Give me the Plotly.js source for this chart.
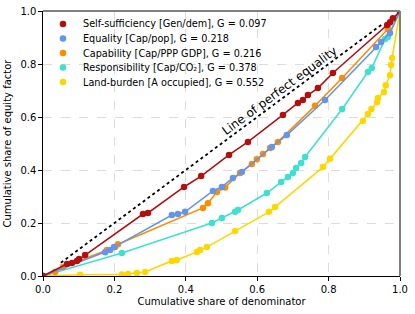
<!DOCTYPE html>
<html>
<head>
<meta charset="utf-8">
<script src="https://cdn.plot.ly/plotly-3.0.1.min.js"></script>
<style>html,body{margin:0;padding:0;background:#fff;}#chart{width:415px;height:314px;}</style>
</head>
<body>
<div id="chart"></div>
<script>
var seriesNames = [
  "Self-sufficiency [Gen/dem], G = 0.097",
  "Equality [Cap/pop], G = 0.218",
  "Capability [Cap/PPP GDP], G = 0.216",
  "Responsibility [Cap/CO\u2082], G = 0.378",
  "Land-burden [A occupied], G = 0.552"
];
var seriesColors = ["#B40F0F", "#6495ED", "#FF8C00", "#40E0D0", "#FFD700"];

var selfX = [0, 0.067, 0.081, 0.095, 0.101, 0.118, 0.280, 0.294, 0.395, 0.443, 0.521, 0.574, 0.672, 0.714, 0.728, 0.742, 0.770, 0.812, 0.964, 0.972, 0.980, 1];
var selfY = [0, 0.045, 0.049, 0.057, 0.064, 0.079, 0.234, 0.238, 0.336, 0.377, 0.457, 0.506, 0.608, 0.653, 0.664, 0.683, 0.709, 0.766, 0.947, 0.958, 0.973, 1];

var eqX = [0, 0.174, 0.188, 0.199, 0.361, 0.378, 0.398, 0.476, 0.501, 0.532, 0.557, 0.641, 0.683, 0.790, 0.933, 0.947, 0.972, 1];
var eqY = [0, 0.090, 0.098, 0.109, 0.230, 0.234, 0.242, 0.321, 0.336, 0.370, 0.392, 0.487, 0.532, 0.664, 0.864, 0.883, 0.917, 1];

var capX = [0, 0.034, 0.056, 0.179, 0.202, 0.210, 0.448, 0.462, 0.487, 0.510, 0.552, 0.585, 0.599, 0.616, 0.636, 0.658, 0.762, 0.838, 0.966, 1];
var capY = [0, 0.015, 0.034, 0.098, 0.109, 0.120, 0.257, 0.275, 0.317, 0.334, 0.389, 0.423, 0.441, 0.460, 0.483, 0.506, 0.642, 0.747, 0.932, 1];

var respX = [0, 0.221, 0.473, 0.501, 0.538, 0.546, 0.627, 0.667, 0.686, 0.700, 0.709, 0.723, 0.734, 0.838, 0.910, 0.921, 0.958, 0.966, 1];
var respY = [0, 0.087, 0.200, 0.219, 0.242, 0.249, 0.313, 0.355, 0.374, 0.389, 0.408, 0.426, 0.449, 0.630, 0.770, 0.785, 0.894, 0.902, 1];

var landX = [0, 0.104, 0.221, 0.238, 0.263, 0.286, 0.361, 0.375, 0.431, 0.440, 0.459, 0.538, 0.633, 0.650, 0.784, 0.804, 0.896, 0.910, 0.920, 0.936, 0.938, 0.955, 0.960, 0.972, 0.975, 0.978, 1];
var landY = [0, 0.005, 0.006, 0.008, 0.011, 0.015, 0.057, 0.060, 0.091, 0.098, 0.109, 0.170, 0.242, 0.260, 0.411, 0.442, 0.585, 0.611, 0.630, 0.657, 0.672, 0.694, 0.720, 0.758, 0.796, 0.823, 1];

var equalityX = [0.05, 0.95];
var equalityY = [0.05, 0.95];
var equalityLabel = "Line of perfect equality";

var tickVals = [0, 0.2, 0.4, 0.6, 0.8, 1.0];
var tickText = ["0.0", "0.2", "0.4", "0.6", "0.8", "1.0"];

var xs = [selfX, eqX, capX, respX, landX];
var ys = [selfY, eqY, capY, respY, landY];

var traces = [];
traces.push({x: equalityX, y: equalityY, mode: "lines", line: {color: "#000", width: 1.8, dash: "dot"}, showlegend: false, hoverinfo: "skip"});
for (var i = xs.length - 1; i >= 0; i--) {
  traces.push({x: xs[i], y: ys[i], mode: "lines+markers", name: seriesNames[i], line: {color: seriesColors[i], width: 1.6},
    marker: {color: seriesColors[i], size: 6.5}, showlegend: false});
}

var font = "DejaVu Sans, sans-serif";
var axisCommon = {
  range: [0, 1], tickvals: tickVals, ticktext: tickText, ticks: "outside", ticklen: 3.5, tickwidth: 1, tickcolor: "#000",
  showline: true, linecolor: "#000", linewidth: 1.2, showgrid: true, gridcolor: "#dcdcdc", griddash: "dash", gridwidth: 1,
  zeroline: false, tickfont: {family: font, size: 10, color: "#000"}, fixedrange: true
};
var xaxis = Object.assign({}, axisCommon, {title: {text: "Cumulative share of denominator", font: {family: font, size: 10, color: "#000"}, standoff: 4}});
var yaxis = Object.assign({}, axisCommon, {title: {text: "Cumulative share of equity factor", font: {family: font, size: 10, color: "#000"}, standoff: 6}});

// manual legend (compact rows like the reference)
var legendRowsY = [0.951, 0.896, 0.8415, 0.787, 0.732];
var shapes = [
  {type: "line", xref: "paper", yref: "paper", x0: 0, x1: 1, y0: 1, y1: 1, line: {color: "#808080", width: 2}},
  {type: "line", xref: "paper", yref: "paper", x0: 1, x1: 1, y0: 0, y1: 1, line: {color: "#808080", width: 2}}
];
var annotations = [{x: 0.662, y: 0.698, xref: "x", yref: "y", text: equalityLabel, showarrow: false, textangle: -36.6,
    font: {family: font, size: 12, color: "#000"}}];
for (var k = 0; k < seriesNames.length; k++) {
  shapes.push({type: "circle", xref: "paper", yref: "paper", xsizemode: "pixel", ysizemode: "pixel",
    xanchor: 0.056, yanchor: legendRowsY[k], x0: -3.3, x1: 3.3, y0: -3.3, y1: 3.3,
    fillcolor: seriesColors[k], line: {width: 0}});
  annotations.push({xref: "paper", yref: "paper", x: 0.1064, y: legendRowsY[k], xanchor: "left", yanchor: "middle",
    text: seriesNames[k], showarrow: false, font: {family: font, size: 9.7, color: "#000"}});
}

var layout = {
  width: 415, height: 314,
  margin: {l: 43, r: 15, t: 11, b: 38},
  paper_bgcolor: "#fff", plot_bgcolor: "#fff",
  xaxis: xaxis, yaxis: yaxis,
  showlegend: false,
  shapes: shapes,
  annotations: annotations
};
Plotly.newPlot("chart", traces, layout, {displayModeBar: false, staticPlot: true});
</script>
</body>
</html>
